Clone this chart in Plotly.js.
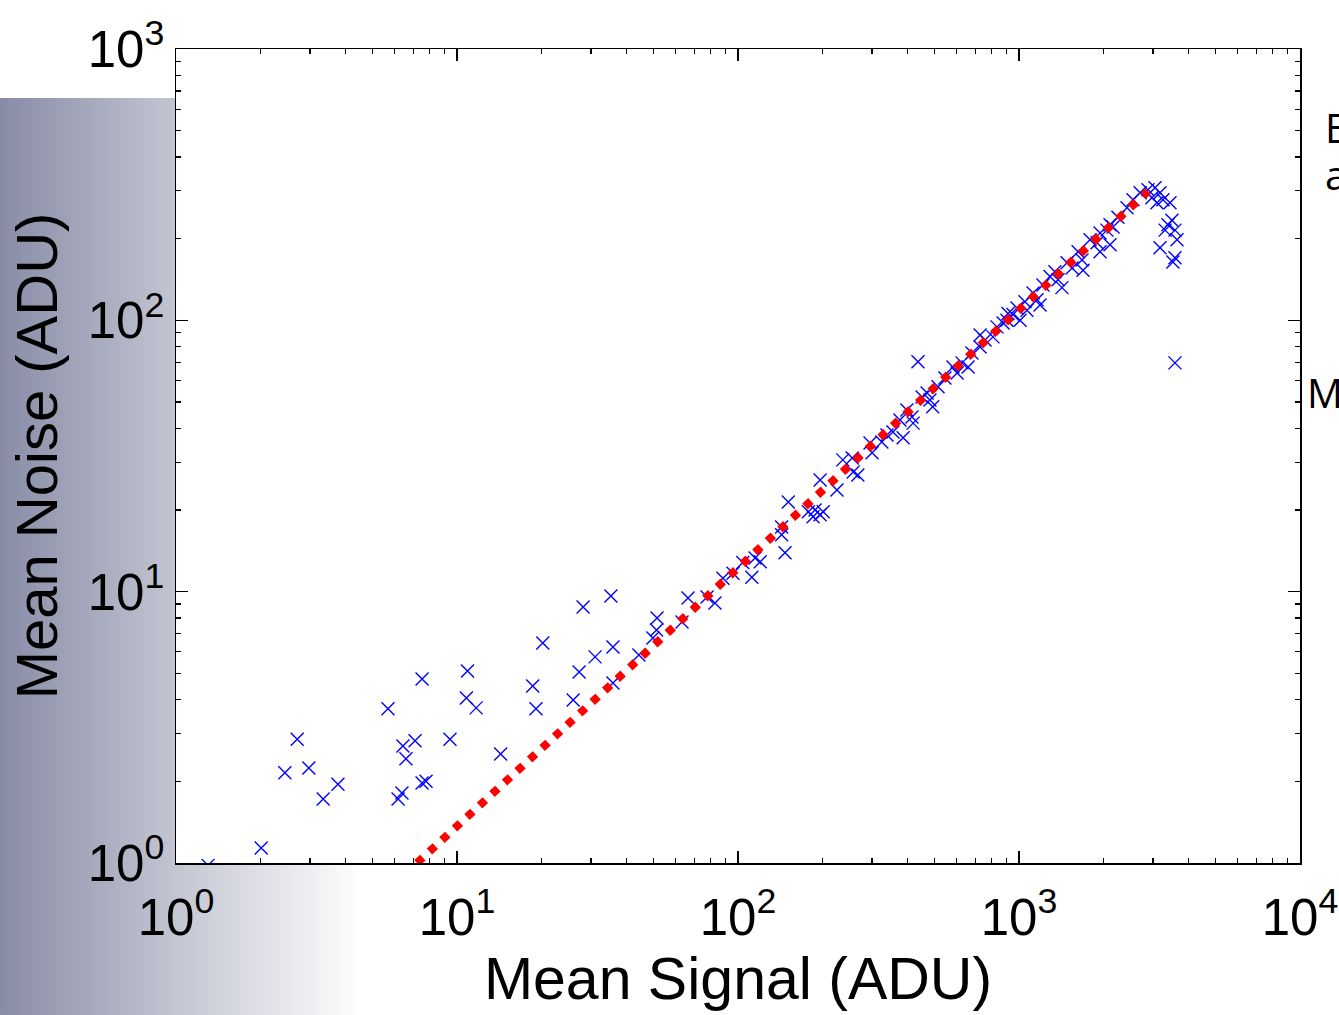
<!DOCTYPE html>
<html>
<head>
<meta charset="utf-8">
<script src="https://cdn.plot.ly/plotly-3.0.1.min.js"></script>
<style>
  html, body { margin: 0; padding: 0; background: #ffffff; }
  #bg { position: absolute; left: 0; top: 98px; width: 362px; height: 917px;
        background: linear-gradient(to right, #888ca6 0px, #c3c5d2 175px, #ffffff 362px); }
  #chart { position: absolute; left: 0; top: 0; width: 1339px; height: 1015px; }
</style>
</head>
<body>
<div id="bg"></div>
<div id="chart"></div>
<script>
// Measured points (mean signal, mean noise) in ADU
const signal = [
  1.30, 2.01, 2.44, 2.70, 2.97, 3.34, 3.77, 5.68, 6.17, 6.37, 6.42, 6.58, 7.09, 7.51, 7.51, 7.76,
  9.44, 10.8, 10.9, 11.7, 14.3, 18.6, 19.1, 20.2, 25.9, 27.2, 28.1, 31.0, 35.3, 35.9, 35.9, 44.4,
  49.8, 51.3, 51.5, 63.2, 66.4, 77.6, 82.8,
  88.4, 96, 104, 112, 115, 120, 143, 143, 147, 151, 178, 185, 188, 196, 196, 201, 225, 236, 255,
  257, 267, 295, 300, 325, 339, 356, 377, 387, 399, 416, 420, 437, 452, 471, 482, 493, 515, 545,
  582, 602, 627, 659, 680, 727, 727, 757, 808, 835, 878, 906, 914, 952, 984, 1009, 1050, 1067,
  1122, 1159, 1188, 1217, 1289, 1342, 1377, 1422, 1483, 1545, 1623, 1676, 1690, 1790, 1896,
  1943, 1943, 2056, 2108, 2108, 2161, 2250, 2423, 2545, 2698, 2878, 2972, 3048, 3098, 3176,
  3176, 3253, 3311, 3390, 3446, 3501, 3530, 3590, 3590, 3590, 3650
];
const noise = [
  0.98, 1.136, 2.15, 2.86, 2.24, 1.72, 1.95, 3.70, 1.72, 1.81, 2.70, 2.42, 2.82, 4.77, 1.97, 2.0,
  2.86, 4.06, 5.10, 3.73, 2.52, 4.49, 3.70, 6.47, 3.99, 5.06, 8.78, 5.75, 9.64, 6.25, 4.61, 5.84,
  6.75, 7.22, 8.0, 7.73, 9.48, 9.56, 9.09,
  11.2, 11.7, 12.8, 11.3, 13.3, 12.9, 16.2, 17.3, 13.9, 21.4, 19.7, 18.9, 20.0, 19.2, 25.8, 19.7, 23.7, 30.6, 31.1,
  27.6, 26.9, 35.3, 32.5, 35.6, 37.8, 38.8, 42.9, 36.9, 46.7, 44.0, 41.8, 70.3, 52.2, 54.0, 50.9, 48.0, 56.9, 61.3,
  67.3, 64.0, 69.7, 67.3, 75.8, 79.8, 88.3, 84.7, 86.9, 94.6, 97.8, 100, 106, 105, 111, 100, 117, 109,
  126, 119, 114, 135, 145, 151, 141, 132, 163, 156, 179, 167, 153, 198, 193,
  210, 179, 215, 225, 190, 221, 240, 260, 278, 295, 303, 283, 308, 271, 295,
  185, 278, 215, 225, 271, 234, 164, 215, 170, 69.7, 198
];
// Straight-line fit drawn as dotted red line (end points)
const fitSignal = [7.2, 2880];
const fitNoise = [1.0, 299];

const xTickVals = [1, 10, 100, 1000, 10000];
const xTickText = ['10<sup>0</sup>', '10<sup>1</sup>', '10<sup>2</sup>', '10<sup>3</sup>', '10<sup>4</sup>'];
const yTickVals = [1, 10, 100, 1000];
const yTickText = ['10<sup>0</sup>', '10<sup>1</sup>', '10<sup>2</sup>', '10<sup>3</sup>'];
const minorVals = [];
[1, 10, 100, 1000].forEach(d => { for (let k = 2; k <= 9; k++) minorVals.push(d * k); });

const xTitle = 'Mean Signal (ADU)';
const yTitle = 'Mean Noise (ADU)';

const traces = [
  {
    x: signal, y: noise, type: 'scatter', mode: 'markers',
    marker: { symbol: 'x-thin', size: 13, color: '#0000ff', line: { color: '#0000ff', width: 1.4 } },
    hoverinfo: 'x+y', showlegend: false
  },
  {
    x: fitSignal, y: fitNoise, type: 'scatter', mode: 'lines',
    line: { color: '#ff0000', width: 8, dash: '8px,9px' },
    showlegend: false
  }
];

const font = 'Liberation Sans, Arial, sans-serif';
const axisCommon = {
  type: 'log',
  showline: true, linecolor: '#000000', linewidth: 1.5, mirror: 'allticks',
  ticks: 'inside', ticklen: 12, tickwidth: 1.5, tickcolor: '#000000',
  showgrid: false, zeroline: false,
  tickfont: { family: font, size: 51, color: '#000000' },
  tickmode: 'array'
};

const layout = {
  width: 1339, height: 1015,
  margin: { l: 176, r: 39, t: 49, b: 152 },
  paper_bgcolor: 'rgba(0,0,0,0)',
  plot_bgcolor: '#ffffff',
  font: { family: font, color: '#000000' },
  xaxis: Object.assign({}, axisCommon, {
    range: [0, 4], tickvals: xTickVals, ticktext: xTickText, ticklabelstandoff: 9,
    minor: { tickmode: 'array', tickvals: minorVals, ticks: 'inside', ticklen: 5, tickwidth: 1.2, tickcolor: '#000000' },
    title: { text: xTitle, font: { family: font, size: 59, color: '#000000' }, standoff: 12 },
    automargin: false
  }),
  yaxis: Object.assign({}, axisCommon, {
    range: [0, 3], tickvals: yTickVals, ticktext: yTickText,
    minor: { tickmode: 'array', tickvals: minorVals, ticks: 'inside', ticklen: 5, tickwidth: 1.2, tickcolor: '#000000' },
    title: { text: yTitle, font: { family: font, size: 58, color: '#000000' }, standoff: 11 },
    automargin: false
  }),
  annotations: [
    { text: 'Ex', xref: 'paper', yref: 'paper', x: 1.0205, y: 0.903, xanchor: 'left', yanchor: 'middle',
      showarrow: false, font: { family: 'Open Sans, sans-serif', size: 40, color: '#000000' } },
    { text: 'an', xref: 'paper', yref: 'paper', x: 1.0205, y: 0.846, xanchor: 'left', yanchor: 'middle',
      showarrow: false, font: { family: 'Open Sans, sans-serif', size: 40, color: '#000000' } },
    { text: 'Me', xref: 'paper', yref: 'paper', x: 1.0045, y: 0.578, xanchor: 'left', yanchor: 'middle',
      showarrow: false, font: { family: 'Open Sans, sans-serif', size: 40, color: '#000000' } }
  ]
};

Plotly.newPlot('chart', traces, layout, { displayModeBar: false, staticPlot: true });
</script>
</body>
</html>
